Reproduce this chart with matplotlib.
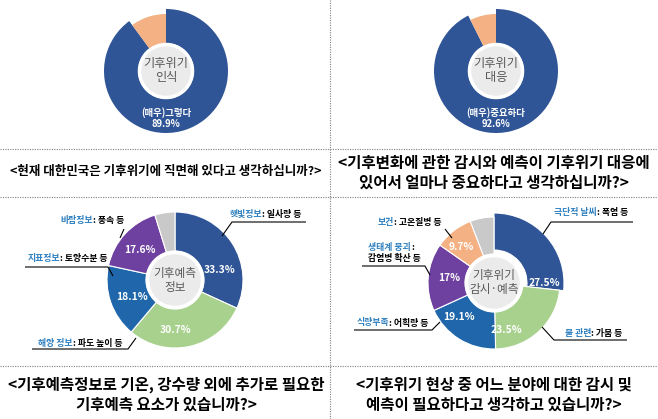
import matplotlib.pyplot as plt
from matplotlib.patches import Circle

plt.rcParams['font.family'] = ['Noto Sans CJK KR', 'DejaVu Sans']

W, H = 658, 419

DARK = '#2f5597'
ORANGE = '#f4b183'
GREEN = '#a9d18e'
MID = '#1f67aa'
PURPLE = '#6e40a0'
GRAY = '#c9c9c9'
NAME_BLUE = '#2e80c0'

# --- data -------------------------------------------------------------
# top left: 기후위기 인식
tl_values = [89.9, 10.1]
tl_colors = [DARK, ORANGE]
tl_center = '기후위기\n인식'
tl_text = '(매우)그렇다\n89.9%'

# top right: 기후위기 대응
tr_values = [92.6, 7.4]
tr_colors = [DARK, ORANGE]
tr_center = '기후위기\n대응'
tr_text = '(매우)중요하다\n92.6%'

# bottom left: 기후예측 정보 (last slice = grey remainder as drawn)
bl_values = [33.3, 30.7, 18.1, 17.6, 5.0]
bl_colors = [DARK, GREEN, MID, PURPLE, GRAY]
bl_pct = ['33.3%', '30.7%', '18.1%', '17.6%']
bl_names = ['햇빛정보', '해양 정보', '지표정보', '바람정보']
bl_rest = [': 일사량 등', ': 파도 높이 등', ': 토양수분 등', ': 풍속 등']
bl_center = '기후예측\n정보'

# bottom right: 기후위기 감시·예측
br_values = [27.5, 23.5, 19.1, 17.0, 9.7, 6.0]
br_colors = [DARK, GREEN, MID, PURPLE, ORANGE, GRAY]
br_pct = ['27.5%', '23.5%', '19.1%', '17%', '9.7%']
br_names = ['극단적 날씨', '물 관련', '식량부족', '생태계 붕괴', '보건']
br_rest = [': 폭염 등', ': 가뭄 등', ': 어획량 등', ':', ': 고온질병 등']
br_center = '기후위기\n감시·예측'

captions = [
    '<현재 대한민국은 기후위기에 직면해 있다고 생각하십니까?>',
    '<기후변화에 관한 감시와 예측이 기후위기 대응에\n있어서 얼마나 중요하다고 생각하십니까?>',
    '<기후예측정보로 기온, 강수량 외에 추가로 필요한\n기후예측 요소가 있습니까?>',
    '<기후위기 현상 중 어느 분야에 대한 감시 및\n예측이 필요하다고 생각하고 있습니까?>',
]

fig = plt.figure(figsize=(W / 100, H / 100), dpi=100)
ax = fig.add_axes([0, 0, 1, 1])


def Y(y):
    return H - y


def donut(cx, cy, r, hole, values, colors, sep, center_text, fs):
    wedges, _ = ax.pie(values, colors=colors, radius=r, center=(cx, Y(cy)),
                       startangle=90, counterclock=False,
                       wedgeprops=dict(width=r - hole, edgecolor='white' if sep else 'none',
                                       linewidth=sep))
    ax.add_patch(Circle((cx, Y(cy)), hole - 1.5, facecolor='#ebebeb', edgecolor='white',
                        lw=2.5, zorder=3))
    ax.text(cx, Y(cy), center_text, ha='center', va='center', fontsize=fs,
            color='#595959', linespacing=1.1, zorder=4)
    return wedges


def name_label(x, y, name, rest):
    ax.text(x, Y(y), name, color=NAME_BLUE, ha='right', va='center', fontsize=6.4,
            fontweight='bold')
    ax.text(x, Y(y), rest, color='black', ha='left', va='center', fontsize=6.4,
            fontweight='bold')


def leader(xs, ys):
    ax.plot(xs, [Y(v) for v in ys], color='black', lw=0.8, solid_capstyle='butt')


# --- top row ----------------------------------------------------------
w = donut(166, 71, 62, 28, tl_values, tl_colors, 0, tl_center, 8.8)
w[1].set_radius(57)
ax.text(166, Y(118), tl_text, ha='center', va='center', fontsize=6.8, color='white',
        fontweight='bold', linespacing=1.1)

w = donut(496, 71, 62, 28, tr_values, tr_colors, 0, tr_center, 8.8)
w[1].set_radius(57)
ax.text(496, Y(118), tr_text, ha='center', va='center', fontsize=6.8, color='white',
        fontweight='bold', linespacing=1.1)

# --- bottom left --------------------------------------------------------
donut(175, 280, 68, 29, bl_values, bl_colors, 0.8, bl_center, 8.4)
bl_offsets = [(45, -10), (0, 50), (-43, 17), (-35, -30)]
for txt, (dx, dy) in zip(bl_pct, bl_offsets):
    ax.text(175 + dx, Y(280 + dy), txt, ha='center', va='center', fontsize=7.4,
            color='white', fontweight='bold', zorder=4)

name_label(262, 214, bl_names[0], bl_rest[0])
leader([306, 232, 222], [222, 222, 236])
name_label(73, 343, bl_names[1], bl_rest[1])
leader([32, 128, 136], [349, 349, 338])
name_label(60, 258, bl_names[2], bl_rest[2])
leader([25, 108, 113], [267, 267, 276])
name_label(93, 221, bl_names[3], bl_rest[3])
leader([124, 120], [229, 238])

# --- bottom right -------------------------------------------------------
w = donut(494, 283, 66, 29, br_values, br_colors, 0.8, br_center, 8.4)
w[0].set_radius(70)
br_offsets = [(50, 0), (12, 47), (-35, 34), (-45, -5), (-33, -36)]
for txt, (dx, dy) in zip(br_pct, br_offsets):
    ax.text(494 + dx, Y(283 + dy), txt, ha='center', va='center', fontsize=7.4,
            color='white', fontweight='bold', zorder=4)

name_label(597, 213, br_names[0], br_rest[0])
leader([633, 551, 543], [222, 222, 234])
name_label(591, 333, br_names[1], br_rest[1])
leader([542, 554, 627], [327, 340, 340])
name_label(389, 323, br_names[2], br_rest[2])
leader([354, 432, 440], [330, 330, 322])
name_label(411, 247, br_names[3], br_rest[3])
ax.text(394, Y(258), '감염병 확산 등', color='black', ha='center', va='center',
        fontsize=6.4, fontweight='bold')
leader([362, 425, 430], [266, 266, 275])
name_label(394, 222, br_names[4], br_rest[4])
leader([445, 452], [229, 238])

# --- captions -----------------------------------------------------------
ax.text(166, Y(172), captions[0], ha='center', va='center', fontsize=9.0,
        fontweight='bold')
ax.text(494, Y(173), captions[1], ha='center', va='center', fontsize=11.2,
        fontweight='bold', linespacing=1.3)
ax.text(166, Y(395), captions[2], ha='center', va='center', fontsize=11.2,
        fontweight='bold', linespacing=1.3)
ax.text(494, Y(395), captions[3], ha='center', va='center', fontsize=11.2,
        fontweight='bold', linespacing=1.3)

# --- dotted grid lines --------------------------------------------------
for yy in (149, 197, 366):
    ax.plot([0, W], [Y(yy), Y(yy)], color='#7f7f7f', lw=0.8, ls=(0, (1, 1.2)))
ax.plot([330, 330], [0, H], color='#7f7f7f', lw=0.8, ls=(0, (1, 1.2)))

ax.set_xlim(0, W)
ax.set_ylim(0, H)
ax.set_aspect('auto')
ax.axis('off')

fig.savefig('out.png', dpi=100, facecolor='white')
